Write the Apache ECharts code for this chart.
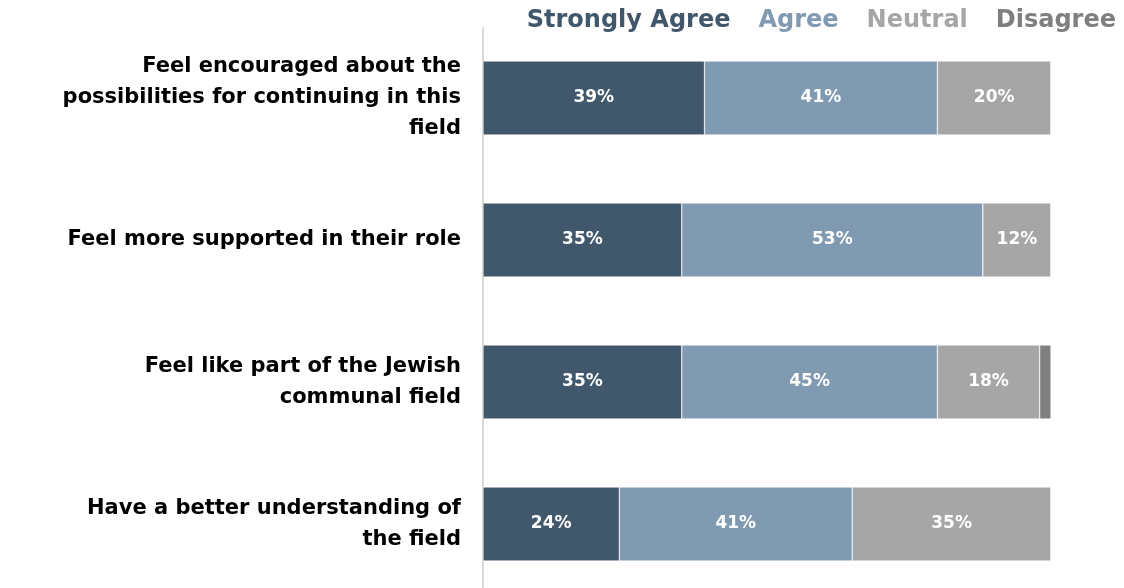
<!DOCTYPE html>
<html>
<head>
<meta charset="utf-8">
<script src="https://cdn.jsdelivr.net/npm/echarts@6/dist/echarts.min.js"></script>
<style>
  html, body { margin: 0; padding: 0; background: #fff; }
  #chart { width: 1124px; height: 588px; }
</style>
</head>
<body>
<div id="chart"></div>
<script>
var categories = [
  'Feel encouraged about the\npossibilities for continuing in this\nfield',
  'Feel more supported in their role',
  'Feel like part of the Jewish\ncommunal field',
  'Have a better understanding of\nthe field'
];
var seriesNames = ['Strongly Agree', 'Agree', 'Neutral', 'Disagree'];
var stronglyAgree = [39, 35, 35, 24];
var agree = [41, 53, 45, 41];
var neutral = [20, 12, 18, 35];
var disagree = [0, 0, 2, 0];
var colors = ['#41576b', '#7f9ab1', '#a6a6a6', '#7f7f7f'];

var values = [stronglyAgree, agree, neutral, disagree];
var fontFamily = 'DejaVu Sans, sans-serif';

var myChart = echarts.init(document.getElementById('chart'));

var series = seriesNames.map(function (name, i) {
  return {
    name: name,
    type: 'bar',
    stack: 'total',
    barWidth: 74,
    data: values[i],
    itemStyle: { color: colors[i], borderColor: '#fff', borderWidth: 0.5 },
    label: {
      show: i < 3,
      position: 'inside',
      color: '#fff',
      fontFamily: fontFamily,
      fontWeight: 'bold',
      fontSize: 17,
      formatter: function (p) { return p.value >= 5 ? p.value + '%' : ''; }
    }
  };
});

// first label sits a little lower than its bar in the original
var categoryData = categories.map(function (c, i) {
  return i === 0 ? { value: c, textStyle: { padding: [8, 0, 0, 0] } } : c;
});

var option = {
  animation: false,
  legend: {
    top: 4,
    right: 3,
    itemWidth: 0,
    itemHeight: 0,
    itemGap: 22,
    data: seriesNames.map(function (name, i) {
      return { name: name, icon: 'rect', textStyle: { color: colors[i] } };
    }),
    textStyle: { fontFamily: fontFamily, fontWeight: 'bold', fontSize: 24 }
  },
  grid: [
    // bars: category points at the first and last row centres
    { left: 483, width: 568, top: 98, height: 426 },
    // only carries the vertical axis line
    { left: 483, width: 568, top: 28, bottom: 0 }
  ],
  xAxis: [
    { gridIndex: 0, type: 'value', min: 0, max: 100, show: false },
    { gridIndex: 1, type: 'value', min: 0, max: 100, show: false }
  ],
  yAxis: [
    {
      gridIndex: 0,
      type: 'category',
      inverse: true,
      boundaryGap: false,
      data: categoryData,
      axisTick: { show: false },
      axisLine: { show: false },
      axisLabel: {
        margin: 22,
        color: '#000',
        fontFamily: fontFamily,
        fontWeight: 'bold',
        fontSize: 21,
        lineHeight: 31,
        align: 'right'
      }
    },
    {
      gridIndex: 1,
      type: 'value',
      show: true,
      axisTick: { show: false },
      axisLabel: { show: false },
      splitLine: { show: false },
      axisLine: { show: true, lineStyle: { color: '#d9d9d9', width: 2 } }
    }
  ],
  series: series
};

myChart.setOption(option);
window.addEventListener('resize', function () {
  myChart.resize();
});
</script>
</body>
</html>
